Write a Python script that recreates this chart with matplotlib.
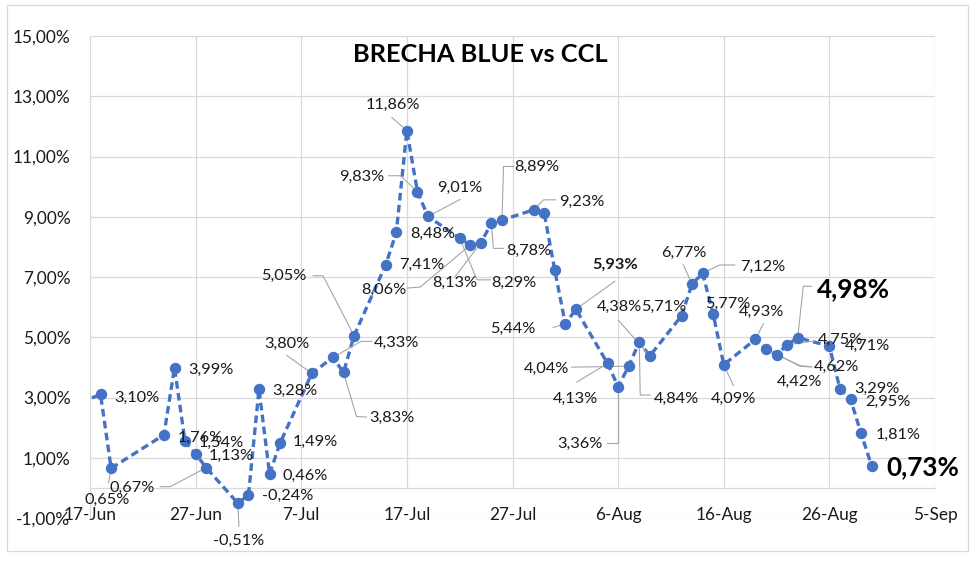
import numpy as np
import matplotlib
matplotlib.use('Agg')
import matplotlib.pyplot as plt
import matplotlib.dates as mdates
from matplotlib.lines import Line2D
from matplotlib.patches import Rectangle
from matplotlib.transforms import IdentityTransform, offset_copy

plt.rcParams['font.family'] = ['Lato', 'DejaVu Sans']

# ---------------- data ----------------
title = 'BRECHA BLUE vs CCL'

dates = ['2024-06-18', '2024-06-19', '2024-06-24', '2024-06-25', '2024-06-26',
         '2024-06-27', '2024-06-28', '2024-07-01', '2024-07-02', '2024-07-03',
         '2024-07-04', '2024-07-05', '2024-07-08', '2024-07-10', '2024-07-11',
         '2024-07-12', '2024-07-15', '2024-07-16', '2024-07-17', '2024-07-18',
         '2024-07-19', '2024-07-22', '2024-07-23', '2024-07-24', '2024-07-25',
         '2024-07-26', '2024-07-29', '2024-07-30', '2024-07-31', '2024-08-01',
         '2024-08-02', '2024-08-05', '2024-08-06', '2024-08-07', '2024-08-08',
         '2024-08-09', '2024-08-12', '2024-08-13', '2024-08-14', '2024-08-15',
         '2024-08-16', '2024-08-19', '2024-08-20', '2024-08-21', '2024-08-22',
         '2024-08-23', '2024-08-26', '2024-08-27', '2024-08-28', '2024-08-29',
         '2024-08-30']
values = [3.10, 0.65, 1.76, 3.99, 1.54,
          1.13, 0.67, -0.51, -0.24, 3.28,
          0.46, 1.49, 3.80, 4.33, 3.83,
          5.05, 7.41, 8.48, 11.86, 9.83,
          9.01, 8.29, 8.06, 8.13, 8.78,
          8.89, 9.23, 9.12, 7.23, 5.44,
          5.93, 4.13, 3.36, 4.04, 4.84,
          4.38, 5.71, 6.77, 7.12, 5.77,
          4.09, 4.93, 4.62, 4.42, 4.75,
          4.98, 4.71, 3.29, 2.95, 1.81,
          0.73]

# previous observation (left of the visible range; line enters from the edge)
lead_date = '2024-06-14'
lead_value = 2.55

x_ticks = ['2024-06-17', '2024-06-27', '2024-07-07', '2024-07-17', '2024-07-27',
           '2024-08-06', '2024-08-16', '2024-08-26', '2024-09-05']
x_tick_labels = ['17-Jun', '27-Jun', '7-Jul', '17-Jul', '27-Jul',
                 '6-Aug', '16-Aug', '26-Aug', '5-Sep']
y_ticks = [-1, 1, 3, 5, 7, 9, 11, 13, 15]

# label layout: date -> (dx px, dy px (down), leader offsets, style)
label_layout = {
    '2024-06-18': (36, 3, None, 'n'),
    '2024-06-19': (-4, 31.5, [(0, 0), (-2.6, 14.5)], 'n'),
    '2024-06-24': (36, 3, None, 'n'),
    '2024-06-25': (36.5, 2.7, None, 'n'),
    '2024-06-26': (36.6, 1, None, 'n'),
    '2024-06-27': (36, 2, None, 'n'),
    '2024-06-28': (-73.7, 19.8, [(0, 0), (-36, 19), (-46, 19)], 'n'),
    '2024-07-01': (1, 38, [(0, 0), (1, 23)], 'n'),
    '2024-07-02': (39, 1, None, 'n'),
    '2024-07-03': (36, 1.4, None, 'n'),
    '2024-07-04': (36, 2, None, 'n'),
    '2024-07-05': (35, -0.6, None, 'n'),
    '2024-07-08': (-25, -30, [(0, 0), (-25, -18)], 'n'),
    '2024-07-10': (64, -15, [(0, 0), (28, -16), (39, -16)], 'n'),
    '2024-07-11': (48, 45, [(0, 0), (13, 44), (23, 44.6)], 'n'),
    '2024-07-12': (-70.6, -59.5, [(0, 0), (-31, -60), (-41, -60)], 'n'),
    '2024-07-15': (36, 0, None, 'n'),
    '2024-07-16': (36.5, 1.7, None, 'n'),
    '2024-07-17': (-14, -26, [(0, 0), (-15, -13)], 'n'),
    '2024-07-18': (-56, -14.4, [(0, 0), (-17, -16), (-29, -16)], 'n'),
    '2024-07-19': (31.5, -28.4, [(0, 0), (32, -17)], 'n'),
    '2024-07-22': (54, 44.4, [(0, 0), (17.3, 41.7), (30.6, 41.7)], 'n'),
    '2024-07-23': (-86.7, 44.8, [(0, 0), (-50, 42), (-63, 43)], 'n'),
    '2024-07-24': (-25.6, 39.6, [(0, 0), (-25.6, 33.6)], 'n'),
    '2024-07-25': (37, 28, [(0, 0), (2, 25), (12, 25)], 'n'),
    '2024-07-26': (35, -53.6, [(0, 0), (1.6, -53.6), (11.6, -53.6)], 'n'),
    '2024-07-29': (48, -8, [(0, 0), (10, -10), (22, -10)], 'n'),
    '2024-08-01': (-52, 4.5, [(0, 0), (-12, 3.4)], 'n'),
    '2024-08-02': (39, -44, [(0, 0), (39, -28)], 'b'),
    '2024-08-05': (-32.4, 35, [(0, 0), (-30.7, 18.6)], 'n'),
    '2024-08-06': (-38, 57, [(0, 0), (0, 56.5), (-11, 56.5)], 'n'),
    '2024-08-07': (-82, 2.5, [(0, 0), (-57, 1)], 'n'),
    '2024-08-08': (36.7, 56.5, [(0, 0), (1, 53), (11, 53)], 'n'),
    '2024-08-09': (-30.7, -49, [(0, 0), (-31.4, -35.6)], 'n'),
    '2024-08-12': (-18, -9, None, 'n'),
    '2024-08-13': (-8.7, -30.6, [(0, 0), (-8.7, -19)], 'n'),
    '2024-08-14': (60, -6.7, [(0, 0), (17, -8.4), (32, -8.4)], 'n'),
    '2024-08-15': (15, -10, None, 'n'),
    '2024-08-16': (9.6, 34, [(0, 0), (9.6, 20.7)], 'n'),
    '2024-08-19': (6.3, -27.4, [(0, 0), (8, -15.8)], 'n'),
    '2024-08-20': (70.7, 18.3, [(0, 0), (34, 17.6), (45.7, 18.3)], 'n'),
    '2024-08-21': (22.5, 27.3, [(0, 0), (24, 11), (35, 12)], 'n'),
    '2024-08-22': (53, -5.2, [(0, 0), (28, -4)], 'n'),
    '2024-08-23': (55.6, -48.3, [(0, 0), (5.6, -51.6), (14, -51.6)], 'B'),
    '2024-08-26': (37.6, 0, None, 'n'),
    '2024-08-27': (37, 0, None, 'n'),
    '2024-08-28': (37, 2.5, None, 'n'),
    '2024-08-29': (37.5, 1.6, None, 'n'),
    '2024-08-30': (51, 1.6, None, 'B'),
}

# ---------------- figure ----------------
W, H = 980, 569
fig = plt.figure(figsize=(W / 100, H / 100), dpi=100)
L, R, T, B = 90, 935, 36, 518
ax = fig.add_axes([L / W, 1 - B / H, (R - L) / W, (B - T) / H])

def num(d):
    return mdates.date2num(np.datetime64(d))

xs = np.array([num(d) for d in dates])
ys = np.array(values)
xt = [num(d) for d in x_ticks]

ax.set_xlim(xt[0], xt[-1])
ax.set_ylim(y_ticks[0], y_ticks[-1])

grid_c = '#d9d9d9'
for t in y_ticks:
    ax.axhline(t, color=grid_c, lw=0.9, zorder=0)
ax.vlines(xt[1:], 0, y_ticks[-1], color=grid_c, lw=0.9, zorder=0)

for s in ['top', 'right']:
    ax.spines[s].set_visible(False)
ax.spines['left'].set_color(grid_c)
ax.spines['left'].set_linewidth(0.9)
ax.spines['bottom'].set_position(('data', 0))
ax.spines['bottom'].set_color(grid_c)
ax.spines['bottom'].set_linewidth(0.9)

txt_c = '#1a1a1a'
ax.set_xticks(xt)
ax.set_xticklabels(x_tick_labels)
ax.set_yticks(y_ticks)
ax.set_yticklabels([f"{t:.2f}".replace('.', ',') + '%' for t in y_ticks])
ax.tick_params(axis='x', length=0, pad=13.5, labelsize=12.4, labelcolor=txt_c)
ax.tick_params(axis='y', length=0, pad=14, labelsize=12.4, labelcolor=txt_c)

blue = '#4472C4'
ax.plot([num(lead_date)] + list(xs), [lead_value] + list(ys), color=blue,
        lw=2.4, dashes=(2.3, 1.3), zorder=3)
ax.plot(xs, ys, ls='none', marker='o', ms=7.2, color=blue, zorder=4)

# data labels
fig.canvas.draw()
for d, v in zip(dates, values):
    if d not in label_layout:
        continue
    dx, dy, lead, style = label_layout[d]
    txt = f"{v:.2f}".replace('.', ',') + '%'
    if style == 'B':
        kw = dict(fontsize=18.8, fontweight='bold', color='black')
    elif style == 'b':
        kw = dict(fontsize=11.8, fontweight='bold', color=txt_c)
    else:
        kw = dict(fontsize=11.8, color=txt_c)
    tr = offset_copy(ax.transData, fig=fig, x=dx, y=-dy, units='dots')
    ax.text(num(d), v, txt, transform=tr, ha='center', va='center',
            zorder=6, clip_on=False, **kw)
    if lead:
        bx, by = ax.transData.transform((num(d), v))
        px = [bx + o[0] for o in lead]
        py = [by - o[1] for o in lead]
        ln = Line2D(px, py, color='#a6a6a6', lw=0.8, transform=IdentityTransform(),
                    zorder=3.5, clip_on=False)
        ax.add_line(ln)

fig.text(480 / W, 1 - 55 / H, title, ha='center', va='center', fontsize=18.3,
         fontweight='bold', color='black')

fig.add_artist(Rectangle((7 / W, 1 - 551 / H), (968 - 7) / W, (551 - 5) / H,
                         transform=fig.transFigure, fill=False, ec=grid_c, lw=0.9))

fig.savefig('out.png', dpi=100)
